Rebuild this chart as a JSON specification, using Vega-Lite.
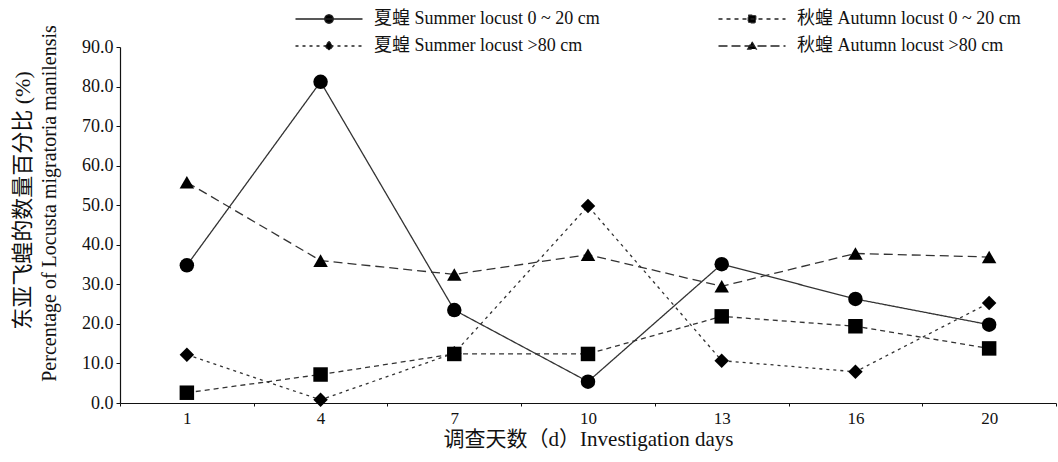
{
  "$schema": "https://vega.github.io/schema/vega-lite/v6.json",
  "width": 936,
  "height": 356,
  "autosize": {"type": "none"},
  "padding": {"left": 120, "top": 47, "right": 2, "bottom": 59},
  "background": "white",
  "config": {
    "view": {"stroke": null},
    "font": "Liberation Serif, Noto Sans CJK SC",
    "axis": {"labelFont": "Liberation Serif, Noto Sans CJK SC", "titleFont": "Liberation Serif, Noto Sans CJK SC", "labelColor": "#111", "titleColor": "#111", "domainColor": "#111", "tickColor": "#111", "grid": false, "titleFontWeight": "normal"},
    "legend": {"labelFont": "Liberation Serif, Noto Sans CJK SC", "labelColor": "#111", "labelLimit": 400}
  },
  "data": {
    "values": [
      {"day": 1, "series": "夏蝗 Summer locust 0 ~ 20 cm", "pct": 34.8},
      {"day": 4, "series": "夏蝗 Summer locust 0 ~ 20 cm", "pct": 81.2},
      {"day": 7, "series": "夏蝗 Summer locust 0 ~ 20 cm", "pct": 23.5},
      {"day": 10, "series": "夏蝗 Summer locust 0 ~ 20 cm", "pct": 5.4},
      {"day": 13, "series": "夏蝗 Summer locust 0 ~ 20 cm", "pct": 35.1},
      {"day": 16, "series": "夏蝗 Summer locust 0 ~ 20 cm", "pct": 26.3},
      {"day": 20, "series": "夏蝗 Summer locust 0 ~ 20 cm", "pct": 19.8},
      {"day": 1, "series": "夏蝗 Summer locust >80 cm", "pct": 12.2},
      {"day": 4, "series": "夏蝗 Summer locust >80 cm", "pct": 0.8},
      {"day": 7, "series": "夏蝗 Summer locust >80 cm", "pct": 12.6},
      {"day": 10, "series": "夏蝗 Summer locust >80 cm", "pct": 49.8},
      {"day": 13, "series": "夏蝗 Summer locust >80 cm", "pct": 10.7},
      {"day": 16, "series": "夏蝗 Summer locust >80 cm", "pct": 7.9},
      {"day": 20, "series": "夏蝗 Summer locust >80 cm", "pct": 25.3},
      {"day": 1, "series": "秋蝗 Autumn locust 0 ~ 20 cm", "pct": 2.6},
      {"day": 4, "series": "秋蝗 Autumn locust 0 ~ 20 cm", "pct": 7.2},
      {"day": 7, "series": "秋蝗 Autumn locust 0 ~ 20 cm", "pct": 12.4},
      {"day": 10, "series": "秋蝗 Autumn locust 0 ~ 20 cm", "pct": 12.4},
      {"day": 13, "series": "秋蝗 Autumn locust 0 ~ 20 cm", "pct": 21.9},
      {"day": 16, "series": "秋蝗 Autumn locust 0 ~ 20 cm", "pct": 19.4},
      {"day": 20, "series": "秋蝗 Autumn locust 0 ~ 20 cm", "pct": 13.8},
      {"day": 1, "series": "秋蝗 Autumn locust >80 cm", "pct": 55.8},
      {"day": 4, "series": "秋蝗 Autumn locust >80 cm", "pct": 36.0},
      {"day": 7, "series": "秋蝗 Autumn locust >80 cm", "pct": 32.5},
      {"day": 10, "series": "秋蝗 Autumn locust >80 cm", "pct": 37.5},
      {"day": 13, "series": "秋蝗 Autumn locust >80 cm", "pct": 29.5},
      {"day": 16, "series": "秋蝗 Autumn locust >80 cm", "pct": 37.8},
      {"day": 20, "series": "秋蝗 Autumn locust >80 cm", "pct": 36.9}
    ]
  },
  "encoding": {
    "x": {
      "field": "day",
      "type": "ordinal",
      "bandPosition": 0.5,
      "scale": {"type": "band", "paddingInner": 0, "paddingOuter": 0},
      "axis": {
        "title": "调查天数（d）Investigation days",
        "titleFontSize": 21,
        "titlePadding": 2,
        "labelFontSize": 17,
        "labelAngle": 0,
        "labelPadding": 4,
        "tickBand": "extent",
        "tickSize": 3,
        "domainWidth": 1.2
      }
    }
  },
  "layer": [
    {
      "mark": {"type": "line", "color": "#333", "strokeWidth": 1.3},
      "encoding": {
        "y": {
          "field": "pct",
          "type": "quantitative",
          "scale": {"domain": [0, 90], "nice": false, "zero": true},
          "axis": {
            "orient": "left",
            "values": [0, 10, 20, 30, 40, 50, 60, 70, 80, 90],
            "format": ".1f",
            "labelFontSize": 18,
            "labelPadding": 3,
            "tickSize": 4,
            "domainWidth": 1.2,
            "title": "Percentage of Locusta migratoria manilensis",
            "titleFontSize": 20,
            "titleX": -61,
            "titleY": 156,
            "titleAngle": -90,
            "titleBaseline": "bottom",
            "titleAlign": "center"
          }
        },
        "detail": {"field": "series"},
        "strokeDash": {
          "field": "series",
          "type": "nominal",
          "scale": {
            "domain": ["夏蝗 Summer locust 0 ~ 20 cm", "秋蝗 Autumn locust 0 ~ 20 cm", "夏蝗 Summer locust >80 cm", "秋蝗 Autumn locust >80 cm"],
            "range": [[1, 0], [5, 4], [3, 4], [9, 5]]
          },
          "legend": null
        }
      }
    },
    {
      "mark": {"type": "point", "filled": true, "color": "black", "opacity": 1, "size": 210},
      "encoding": {
        "y": {"field": "pct", "type": "quantitative", "scale": {"domain": [0, 90], "nice": false, "zero": true}, "axis": null},
        "shape": {
          "field": "series",
          "type": "nominal",
          "scale": {
            "domain": ["夏蝗 Summer locust 0 ~ 20 cm", "秋蝗 Autumn locust 0 ~ 20 cm", "夏蝗 Summer locust >80 cm", "秋蝗 Autumn locust >80 cm"],
            "range": ["circle", "square", "diamond", "triangle-up"]
          },
          "legend": null
        }
      }
    },
    {
      "mark": {"type": "point", "filled": true, "fill": "black", "stroke": "#222", "strokeWidth": 1.3, "opacity": 0},
      "encoding": {
        "y": {
          "field": "pct",
          "type": "quantitative",
          "scale": {"domain": [0, 90], "nice": false, "zero": true},
          "axis": {
            "orient": "left",
            "labels": false,
            "ticks": false,
            "domain": false,
            "title": "东亚飞蝗的数量百分比 (%)",
            "titleFontSize": 22,
            "titleX": -86,
            "titleY": 153,
            "titleAngle": -90,
            "titleBaseline": "bottom",
            "titleAlign": "center"
          }
        },
        "shape": {
          "field": "series",
          "type": "nominal",
          "scale": {
            "domain": ["夏蝗 Summer locust 0 ~ 20 cm", "秋蝗 Autumn locust 0 ~ 20 cm", "夏蝗 Summer locust >80 cm", "秋蝗 Autumn locust >80 cm"],
            "range": [
              "M-6.7,0H6.7M0.85,0A0.85,0.85 0 1,1 -0.85,0A0.85,0.85 0 1,1 0.85,0Z",
              "M-6.7,0H6.7M-0.75,-0.75H0.75V0.75H-0.75Z",
              "M-6.7,0H6.7M0,-0.9L0.8,0L0,0.9L-0.8,0Z",
              "M-6.7,0H6.7M0,-0.85L0.85,0.6H-0.85Z"
            ]
          },
          "legend": {
            "title": null,
            "orient": "none",
            "direction": "horizontal",
            "legendX": 200,
            "legendY": -37,
            "columns": 2,
            "columnPadding": 115,
            "rowPadding": 9,
            "labelFontSize": 18,
            "labelOffset": 36,
            "symbolSize": 100,
            "symbolStrokeWidth": 1.3
          }
        },
        "strokeDash": {
          "field": "series",
          "type": "nominal",
          "scale": {
            "domain": ["夏蝗 Summer locust 0 ~ 20 cm", "秋蝗 Autumn locust 0 ~ 20 cm", "夏蝗 Summer locust >80 cm", "秋蝗 Autumn locust >80 cm"],
            "range": [[1, 0], [4, 4], [3, 4], [9, 4]]
          },
          "legend": {
            "title": null,
            "orient": "none",
            "direction": "horizontal",
            "legendX": 200,
            "legendY": -37,
            "columns": 2,
            "columnPadding": 115,
            "rowPadding": 9,
            "labelFontSize": 18,
            "labelOffset": 36,
            "symbolSize": 100,
            "symbolStrokeWidth": 1.3
          }
        }
      }
    }
  ],
  "resolve": {"scale": {"shape": "independent", "strokeDash": "independent"}, "axis": {"y": "independent"}}
}
